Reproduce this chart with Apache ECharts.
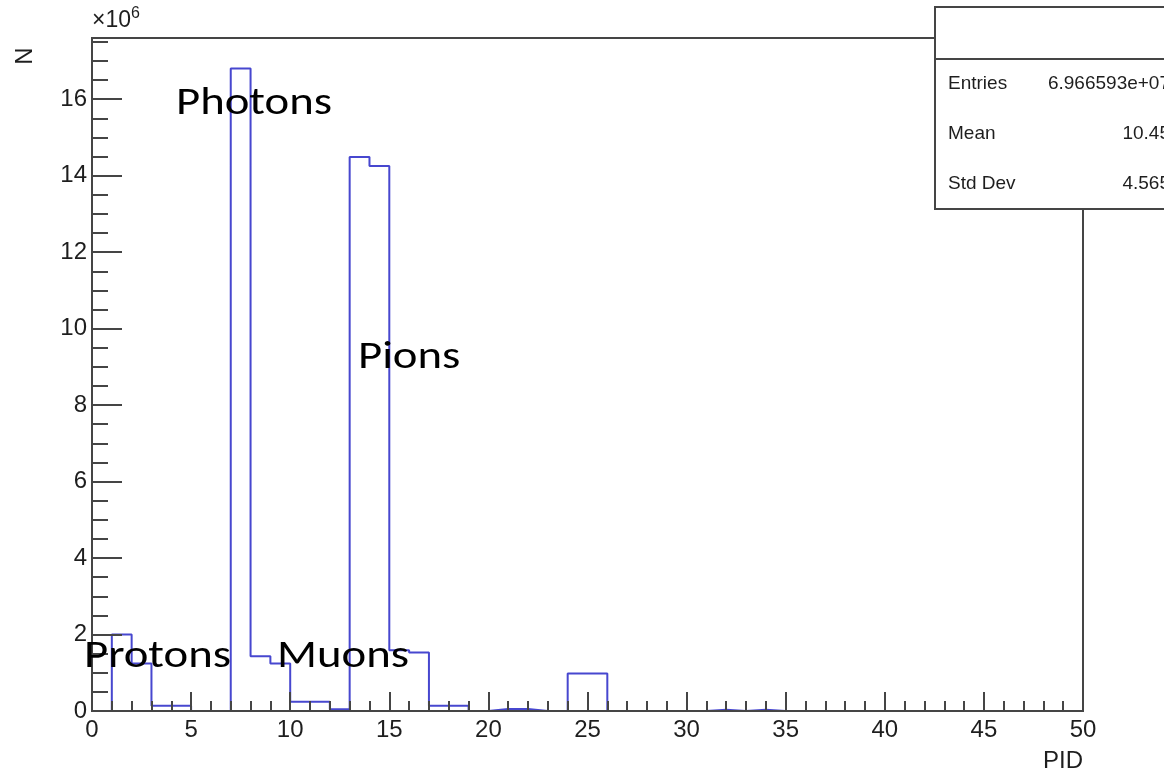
<!DOCTYPE html>
<html>
<head>
<meta charset="utf-8">
<script src="https://cdn.jsdelivr.net/npm/echarts@6/dist/echarts.min.js"></script>
<style>
  html, body { margin: 0; padding: 0; background: #fff; }
  #chart { width: 1164px; height: 772px; }
</style>
</head>
<body>
<div id="chart"></div>
<script>
// PID histogram: 50 unit-wide bins from 0 to 50, counts in units of 10^6
const binWidth = 1;
const counts = [
  0, 2.00, 1.24, 0.14, 0.14, 0, 0, 16.80, 1.43, 1.24,
  0.24, 0.24, 0.045, 14.49, 14.25, 1.59, 1.53, 0.14, 0.14, 0,
  0.05, 0.05, 0, 0, 0.98, 0.98, 0, 0, 0, 0,
  0, 0.03, 0, 0.03, 0, 0, 0, 0, 0, 0,
  0, 0, 0, 0, 0, 0, 0, 0, 0, 0
];
const xTickLabels = ['0', '5', '10', '15', '20', '25', '30', '35', '40', '45', '50'];
const yTickLabels = ['0', '2', '4', '6', '8', '10', '12', '14', '16'];
const annotations = [
  { text: 'Photons', x: 176, y: 104 },
  { text: 'Pions', x: 358, y: 358 },
  { text: 'Protons', x: 84, y: 657 },
  { text: 'Muons', x: 277, y: 657 }
];
const statsNames = ['Entries', 'Mean', 'Std Dev'];
const statsValues = ['6.966593e+07', '10.45', '4.565'];

// step outline: each bin's value holds from its lower edge to the next edge
const outline = counts.map((v, i) => [i * binWidth, v]);
outline.push([counts.length * binWidth, counts[counts.length - 1]]);

const axisColor = '#454545';
const textColor = '#1e1e1e';
const labelFont = '"Liberation Sans", Arial, Helvetica, sans-serif';

const chart = echarts.init(document.getElementById('chart'), null, { renderer: 'canvas' });

const yMax = 17.6;
const xMax = 50;

const option = {
  animation: false,
  backgroundColor: '#fff',
  grid: {
    left: 92, right: 81, top: 38, bottom: 61,
    show: true, borderColor: axisColor, borderWidth: 2, backgroundColor: 'transparent'
  },
  xAxis: [
    {
      type: 'value', min: 0, max: xMax, interval: 5, z: 5,
      axisLine: { show: true, lineStyle: { color: axisColor, width: 2 } },
      axisTick: { show: true, inside: true, length: 19, lineStyle: { color: axisColor, width: 2 } },
      axisLabel: {
        show: true, margin: 7, color: textColor, fontFamily: labelFont, fontSize: 24,
        formatter: v => xTickLabels.includes(String(v)) ? String(v) : ''
      },
      splitLine: { show: false }
    },
    {
      type: 'value', min: 0, max: xMax, interval: 1, position: 'bottom', z: 5,
      axisLine: { show: false },
      axisTick: { show: true, inside: true, length: 10, lineStyle: { color: axisColor, width: 2 } },
      axisLabel: { show: false },
      splitLine: { show: false }
    }
  ],
  yAxis: [
    {
      type: 'value', min: 0, max: yMax, interval: 2, z: 5,
      axisLine: { show: true, lineStyle: { color: axisColor, width: 2 } },
      axisTick: { show: true, inside: true, length: 30, lineStyle: { color: axisColor, width: 2 } },
      axisLabel: {
        show: true, margin: 5, color: textColor, fontFamily: labelFont, fontSize: 24,
        formatter: v => yTickLabels.includes(String(v)) ? String(v) : ''
      },
      splitLine: { show: false }
    },
    {
      type: 'value', min: 0, max: yMax, interval: 0.5, position: 'left', z: 5,
      axisLine: { show: false },
      axisTick: { show: true, inside: true, length: 16, lineStyle: { color: axisColor, width: 2 } },
      axisLabel: { show: false },
      splitLine: { show: false }
    }
  ],
  series: [
    {
      type: 'line',
      xAxisIndex: 0, yAxisIndex: 0,
      step: 'end',
      data: outline,
      showSymbol: false,
      symbol: 'none',
      z: 2,
      lineStyle: { color: '#4747cf', width: 2 },
      silent: true
    }
  ],
  graphic: [
    // exponent of the y axis
    {
      type: 'text', x: 92, y: 35, z: 10,
      style: {
        text: '×10{s|6}',
        rich: { s: { fontSize: 16, fontFamily: labelFont, fill: textColor, padding: [0, 0, 13, 0] } },
        fontFamily: labelFont, fontSize: 23, fill: textColor, verticalAlign: 'bottom'
      }
    },
    // y axis title
    {
      type: 'text', x: 25, y: 56, rotation: Math.PI / 2, z: 10,
      style: { text: 'N', fontFamily: labelFont, fontSize: 24, fill: textColor, align: 'center', verticalAlign: 'middle' }
    },
    // x axis title
    {
      type: 'text', x: 1083, y: 761, z: 10,
      style: { text: 'PID', fontFamily: labelFont, fontSize: 24, fill: textColor, align: 'right', verticalAlign: 'middle' }
    },
    // statistics box
    {
      type: 'rect', z: 20,
      shape: { x: 935, y: 7, width: 300, height: 202 },
      style: { fill: '#fff', stroke: axisColor, lineWidth: 2 }
    },
    {
      type: 'line', z: 21,
      shape: { x1: 935, y1: 59, x2: 1235, y2: 59 },
      style: { stroke: axisColor, lineWidth: 2 }
    },
    ...statsNames.map((name, i) => ({
      type: 'text', x: 948, y: 84 + i * 50, z: 22,
      style: { text: name, fontFamily: labelFont, fontSize: 19, fill: textColor, align: 'left', verticalAlign: 'middle' }
    })),
    ...statsValues.map((val, i) => ({
      type: 'text', x: 1170, y: 84 + i * 50, z: 22,
      style: { text: val, fontFamily: labelFont, fontSize: 19, fill: textColor, align: 'right', verticalAlign: 'middle' }
    })),
    // particle labels
    ...annotations.map(a => ({
      type: 'text', x: a.x, y: a.y, z: 30, scaleX: 1.23,
      style: { text: a.text, fontFamily: 'Carlito, Calibri, "Open Sans", sans-serif', fontSize: 38, fill: '#000', align: 'left', verticalAlign: 'middle' }
    }))
  ]
};

chart.setOption(option);
</script>
</body>
</html>
